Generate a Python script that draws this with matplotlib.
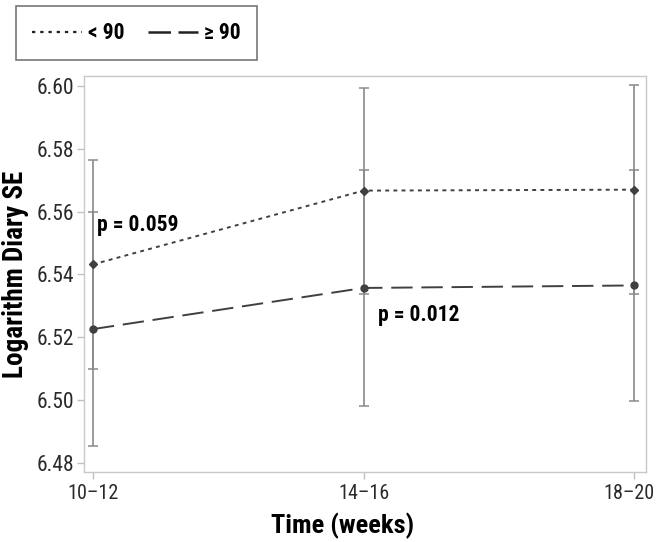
import matplotlib
matplotlib.use("Agg")
import matplotlib.pyplot as plt
from matplotlib.lines import Line2D
from matplotlib import font_manager
from matplotlib.transforms import ScaledTranslation

weights = {}
for f in font_manager.fontManager.ttflist:
    if f.style == 'normal':
        w = f.weight if isinstance(f.weight, int) else (700 if f.weight == 'bold' else 400)
        weights.setdefault(f.name, set()).add(w)
fam = "Liberation Sans"
for cand in ["Liberation Sans Narrow", "Arial Narrow", "Roboto Condensed", "Archivo Narrow",
             "PT Sans Narrow", "IBM Plex Sans Condensed", "Fira Sans Condensed",
             "Encode Sans Condensed", "Barlow Semi Condensed", "Open Sans Condensed"]:
    ws = weights.get(cand, set())
    if any(w <= 400 for w in ws) and any(w >= 700 for w in ws):
        fam = cand
        break
narrow = fam != "Liberation Sans"
plt.rcParams['font.family'] = [fam, 'DejaVu Sans']
k = 1.0 if narrow else 0.84

categories = ["10\u201312", "14\u201316", "18\u201320"]
low_mean = [6.5432, 6.5667, 6.5670]
low_err = [0.0332, 0.0328, 0.0332]
high_mean = [6.5226, 6.5357, 6.5365]
high_err = [0.0372, 0.0377, 0.0368]
yticks = [6.48, 6.50, 6.52, 6.54, 6.56, 6.58, 6.60]

fig = plt.figure(figsize=(6.57, 5.42), dpi=100)
ax = fig.add_axes([0.1279, 0.1292, 0.8554, 0.7306])
x = list(range(len(categories)))

ax.errorbar(x, low_mean, yerr=low_err, fmt='none', ecolor='#8a8a8a', elinewidth=1.2, capsize=3.5, capthick=1.1, zorder=2)
ax.errorbar(x, high_mean, yerr=high_err, fmt='none', ecolor='#8a8a8a', elinewidth=1.2, capsize=3.5, capthick=1.1, zorder=2)

ax.plot(x, low_mean, color='#404040', lw=1.4, linestyle=(0, (2, 2.2)), marker='D', markersize=4.5, zorder=3)
ax.plot(x, high_mean, color='#404040', lw=1.4, linestyle=(0, (11, 4.5)), marker='o', markersize=5, zorder=3)

ax.text(0.015, 6.5558, "p = 0.059", fontsize=15.5 * k, fontweight='bold', va='center', ha='left')
ax.text(1.054, 6.5272, "p = 0.012", fontsize=15.5 * k, fontweight='bold', va='center', ha='left')

ax.set_xlim(-0.033, 2.044)
ax.set_ylim(6.4771, 6.6032)
ax.set_xticks(x)
ax.set_xticklabels(categories, fontsize=14.5 * k)
ax.set_yticks(yticks)
ax.set_yticklabels([f"{v:.2f}" for v in yticks], fontsize=15.5 * k)
for s in ax.spines.values():
    s.set_color('#c8c8c8')
    s.set_linewidth(1.0)
ax.tick_params(axis='both', colors='#c0c0c0', length=5, width=1.0, labelcolor='#2a2a2a')
ax.tick_params(axis='x', pad=4)
ax.tick_params(axis='y', pad=2)
last = ax.get_xticklabels()[-1]
last.set_transform(last.get_transform() + ScaledTranslation(-5 / 100, 0, fig.dpi_scale_trans))

ax.set_xlabel("Time (weeks)", fontsize=19 * k, fontweight='bold')
ax.set_ylabel("Logarithm Diary SE", fontsize=19.5 * k, fontweight='bold')
ax.xaxis.set_label_coords(0.46, -0.104)
ax.yaxis.set_label_coords(-0.098, 0.5)

handles = [Line2D([], [], color='#222222', lw=1.6, linestyle=(0, (1.5, 2.2))),
           Line2D([], [], color='#222222', lw=1.8, linestyle=(0, (9, 3)))]
leg = fig.legend(handles, ["< 90", "\u2265 90"], loc='upper left', bbox_to_anchor=(0.018, 0.997),
                 ncol=2, frameon=True, fancybox=False, edgecolor='#555555',
                 prop={'weight': 'bold', 'size': 15.5 * k}, handlelength=2.3, handletextpad=0.3,
                 columnspacing=1.1, borderpad=0.75, borderaxespad=0.2)
leg.get_frame().set_linewidth(1.2)

fig.savefig("out.png", dpi=100)
